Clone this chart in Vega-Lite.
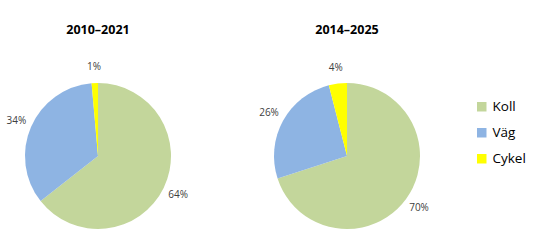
{
  "$schema": "https://vega.github.io/schema/vega-lite/v6.json",
  "padding": {"left": 5, "top": 23, "right": 0, "bottom": 0},
  "data": {"values": [
    {"period": "2010–2021", "mode": "Koll", "rank": 1, "share": 0.644},
    {"period": "2010–2021", "mode": "Väg", "rank": 2, "share": 0.342},
    {"period": "2010–2021", "mode": "Cykel", "rank": 3, "share": 0.014},
    {"period": "2014–2025", "mode": "Koll", "rank": 1, "share": 0.70},
    {"period": "2014–2025", "mode": "Väg", "rank": 2, "share": 0.26},
    {"period": "2014–2025", "mode": "Cykel", "rank": 3, "share": 0.04}
  ]},
  "facet": {
    "column": {"field": "period", "type": "nominal", "title": null,
      "header": {"labelFontWeight": "bold", "labelFontSize": 12.5, "labelFont": "Open Sans", "labelColor": "#000000", "labelPadding": 26}}
  },
  "spacing": 63,
  "resolve": {"scale": {"theta": "independent"}},
  "spec": {
    "width": 186,
    "height": 160,
    "encoding": {
      "theta": {"field": "share", "type": "quantitative", "stack": true},
      "order": {"field": "rank", "type": "ordinal", "sort": "ascending"}
    },
    "layer": [
      {
        "mark": {"type": "arc", "outerRadius": 73},
        "encoding": {
          "color": {"field": "mode", "type": "nominal",
            "scale": {"domain": ["Koll", "Väg", "Cykel"], "range": ["#C3D69B", "#8EB4E3", "#FFFF00"]},
            "legend": {"title": null, "orient": "none", "legendX": 470, "legendY": 24, "symbolType": "square", "symbolSize": 90, "labelFontSize": 13.5, "labelFont": "Open Sans", "labelColor": "#000000", "rowPadding": 11, "symbolStrokeWidth": 0}}
        }
      },
      {
        "mark": {"type": "text", "radius": 89, "fontSize": 10, "font": "Open Sans", "color": "#404040"},
        "encoding": {
          "text": {"field": "share", "type": "quantitative", "format": ".0%"}
        }
      }
    ]
  },
  "config": {"view": {"stroke": null}}
}
